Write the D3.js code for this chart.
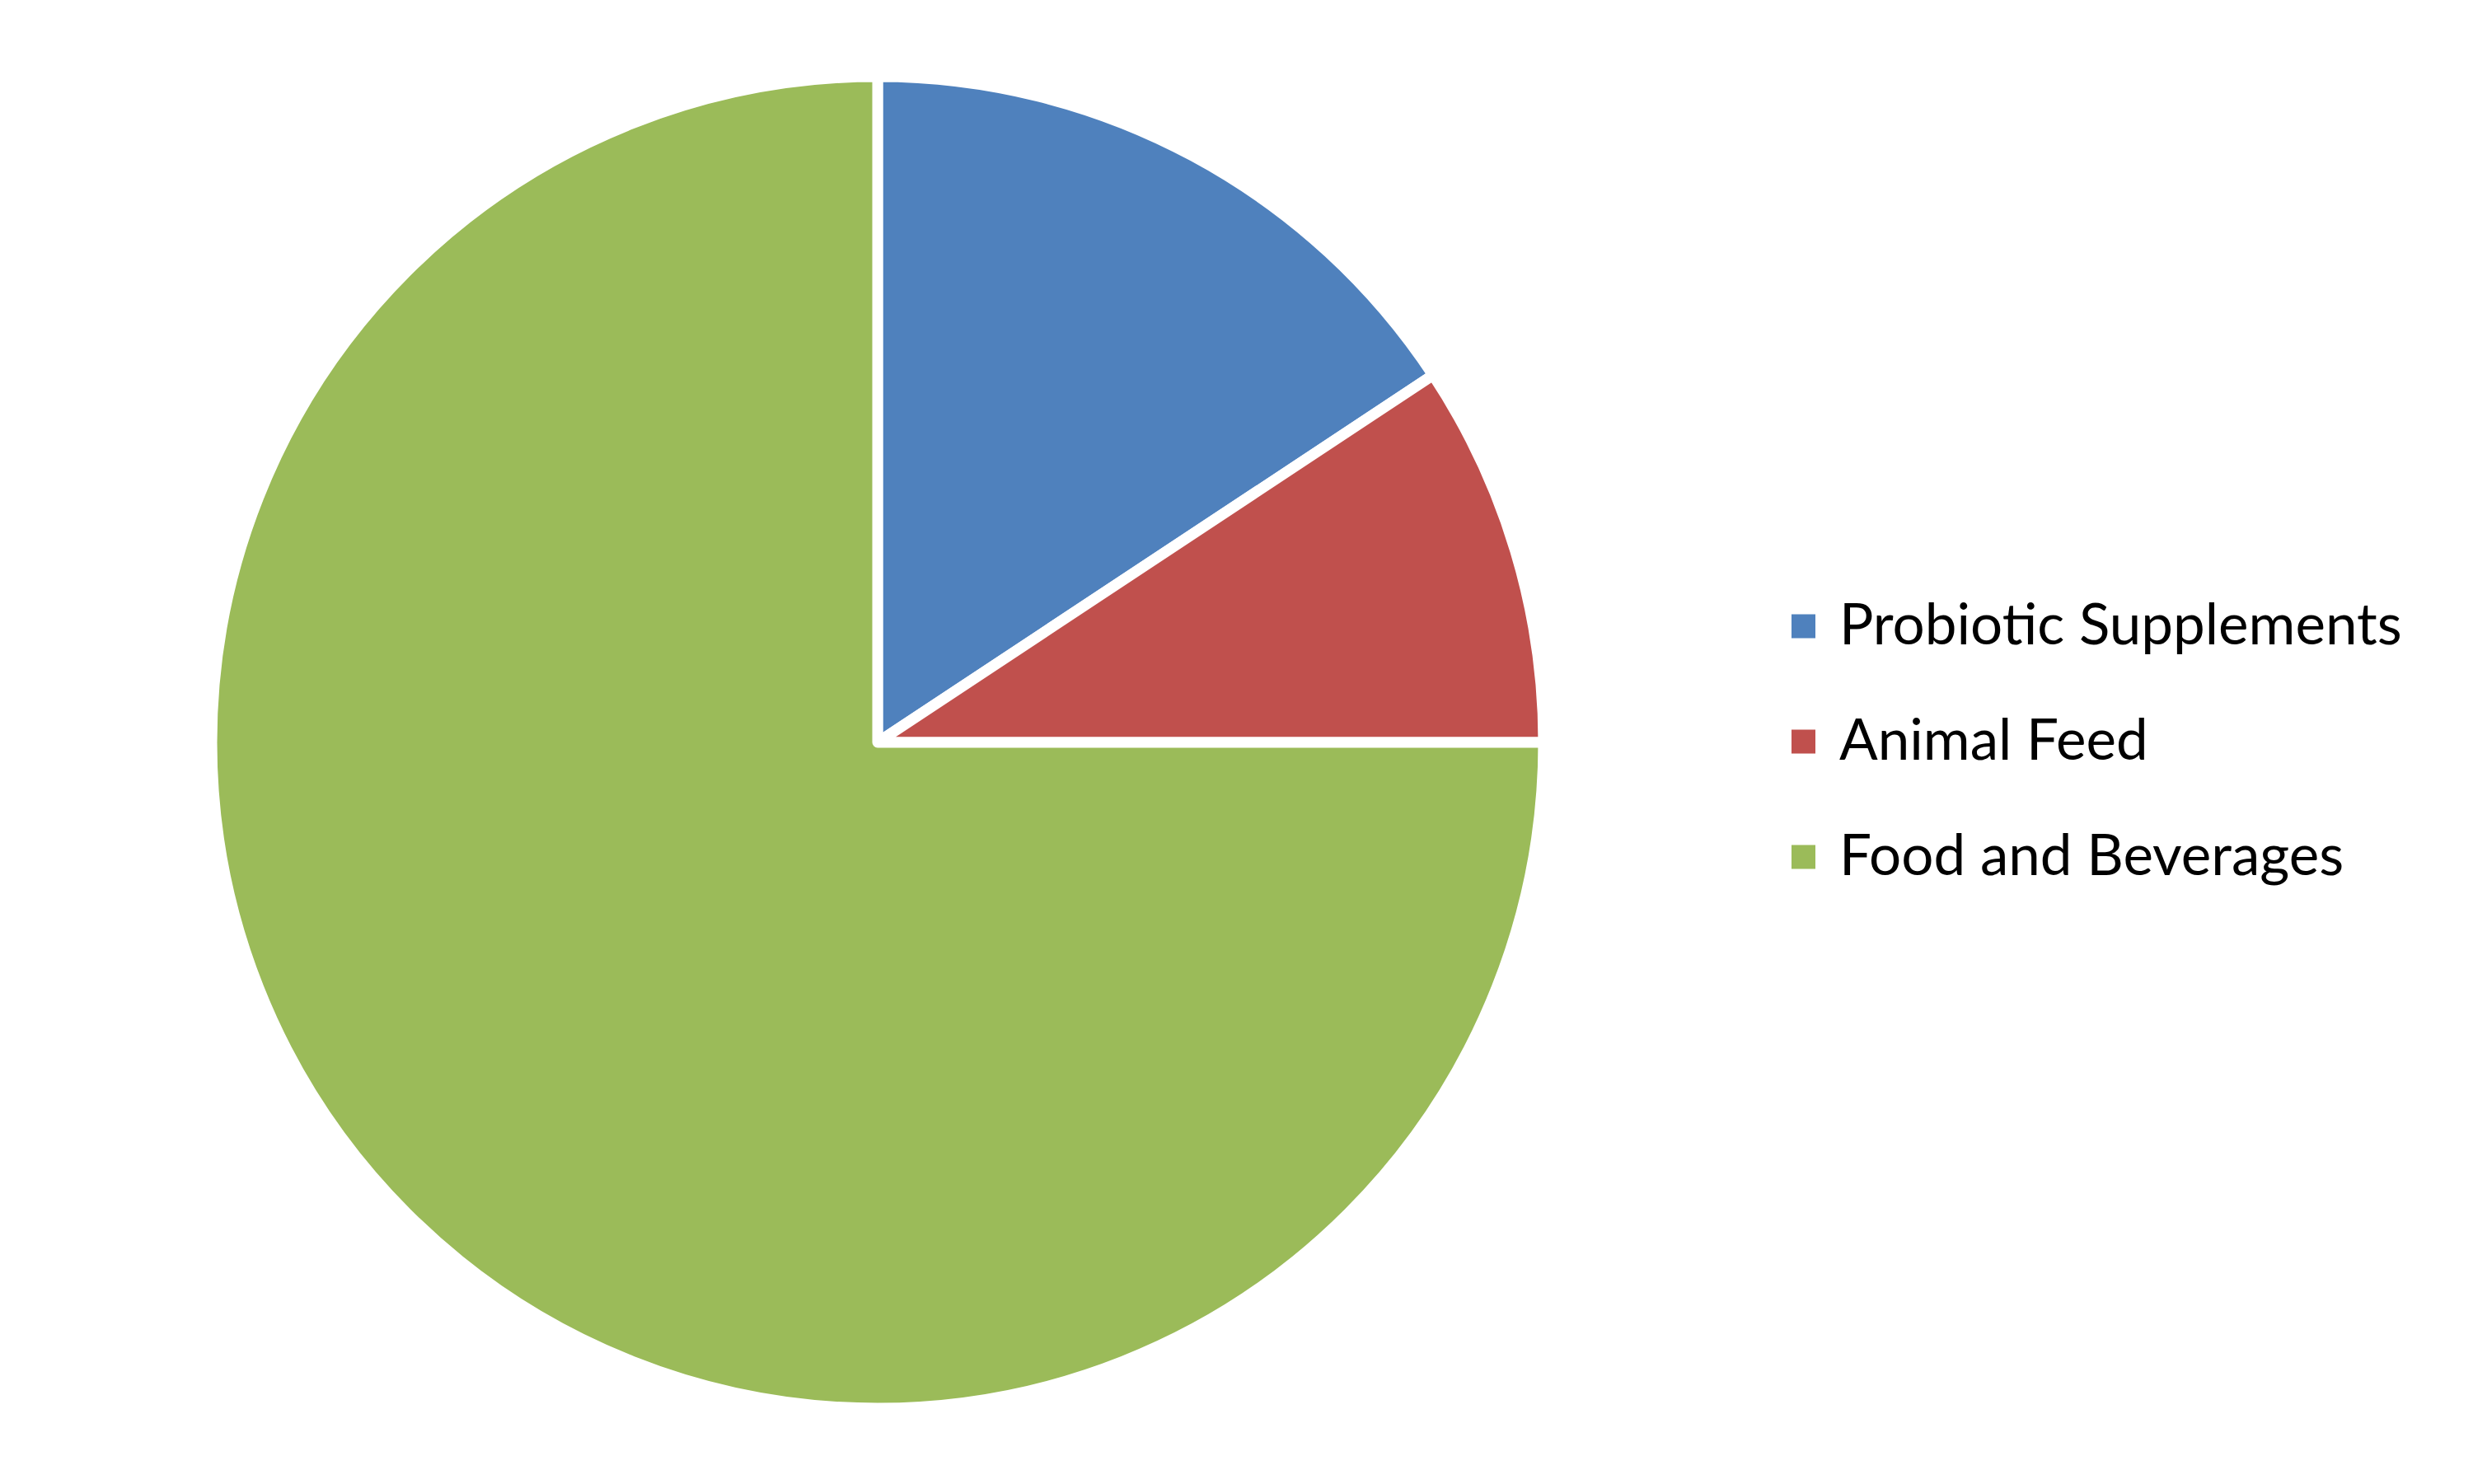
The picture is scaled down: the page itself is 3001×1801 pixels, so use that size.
<!DOCTYPE html>
<html>
<head>
<meta charset="utf-8">
<script src="https://cdn.jsdelivr.net/npm/d3@7"></script>
<style>
  body { margin: 0; background: #fff; }
  svg { display: block; }
</style>
</head>
<body>
<div id="chart"></div>
<script>
// ----- DATA
var categories = ["Probiotic Supplements", "Animal Feed", "Food and Beverages"];
var shares = [15.7, 9.3, 75.0];
var colors = ["#4F81BD", "#C0504D", "#9BBB59"];

// ----- LAYOUT
const size = { width: 3001, height: 1801 };
const pieCenter = { x: 1065, y: 901 };
const radius = 808;
const legend = { x: 2174, y: 760, step: 140, box: 29, textGap: 58, textWidth: 683 };

var svg = d3.select("#chart")
    .append("svg")
    .attr("width", size.width)
    .attr("height", size.height);

var pie = d3.pie().sort(null).value(function (d) { return d; });
var arc = d3.arc().innerRadius(0).outerRadius(radius);

var color = d3.scaleOrdinal().domain(categories).range(colors);

// slices
svg.append("g")
    .attr("transform", "translate(" + pieCenter.x + "," + pieCenter.y + ")")
    .selectAll("path")
    .data(pie(shares))
    .join("path")
    .attr("d", arc)
    .attr("fill", function (d, i) { return color(categories[i]); })
    .attr("stroke", "#fff")
    .attr("stroke-width", 13)
    .attr("stroke-linejoin", "round");

// legend
var rows = svg.append("g")
    .selectAll("g")
    .data(categories)
    .join("g")
    .attr("transform", function (d, i) { return "translate(" + legend.x + "," + (legend.y + i * legend.step) + ")"; });

rows.append("rect")
    .attr("x", 0)
    .attr("y", -legend.box / 2)
    .attr("width", legend.box)
    .attr("height", legend.box)
    .attr("fill", function (d) { return color(d); });

var labels = rows.append("text")
    .attr("x", legend.textGap)
    .attr("y", 22)
    .attr("font-family", "Lato, 'Open Sans', sans-serif")
    .attr("font-size", 70)
    .attr("fill", "#000")
    .text(function (d) { return d; });

// scale font so the longest label matches the reference width
var w = labels.nodes()[0].getComputedTextLength();
labels.attr("font-size", 70 * legend.textWidth / w);
</script>
</body>
</html>
